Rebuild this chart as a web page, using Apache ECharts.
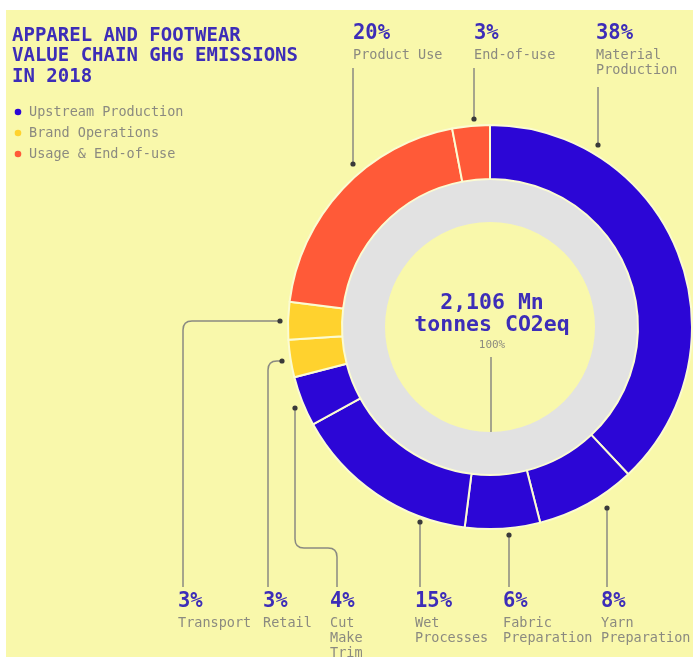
<!DOCTYPE html>
<html>
<head>
<meta charset="utf-8">
<script src="https://cdn.jsdelivr.net/npm/echarts@6/dist/echarts.min.js"></script>
<style>
  html, body { margin: 0; padding: 0; background: #ffffff; }
  #chart { width: 693px; height: 657px; }
</style>
</head>
<body>
<div id="chart"></div>
<script>
// Value chain stages, clockwise from 12 o'clock
const stageNames = ['Material Production', 'Yarn Preparation', 'Fabric Preparation', 'Wet Processes',
  'Cut Make Trim', 'Retail', 'Transport', 'Product Use', 'End-of-use'];
const stageShares = [38, 8, 6, 15, 4, 3, 3, 20, 3];
const stageGroup = [0, 0, 0, 0, 0, 1, 1, 2, 2];
const stageLabels = ['Material\nProduction', 'Yarn\nPreparation', 'Fabric\nPreparation', 'Wet\nProcesses',
  'Cut\nMake\nTrim', 'Retail', 'Transport', 'Product Use', 'End-of-use'];

const groupNames = ['Upstream Production', 'Brand Operations', 'Usage & End-of-use'];

const titleLines = ['APPAREL AND FOOTWEAR', 'VALUE CHAIN GHG EMISSIONS', 'IN 2018'];
const totalLines = ['2,106 Mn', 'tonnes CO2eq'];
const totalShare = '100%';

// Styling
const BG = '#f9f8ab';
const groupColors = ['#2c06d6', '#ffd22e', '#ff5a38'];
const INK = '#3d2db8';
const GREY_TEXT = '#8b8a80';
const LEADER = '#8a8a82';
const DOT = '#3a3a3a';
const MONO = '"DejaVu Sans Mono", monospace';

const CX = 490, CY = 327;

// Callout layout per stage: text anchor and leader route (last point carries the dot)
const callouts = {
  'Product Use':         { x: 353, y: 34, route: [[353, 68], [353, 164]] },
  'End-of-use':          { x: 474, y: 34, route: [[474, 68], [474, 119]] },
  'Material Production': { x: 596, y: 34, route: [[598, 87], [598, 145]] },
  'Transport':           { x: 178, y: 602, route: [[183, 587], [183, 321], [280, 321]] },
  'Retail':              { x: 263, y: 602, route: [[268, 587], [268, 361], [282, 361]] },
  'Cut Make Trim':       { x: 330, y: 602, route: [[337, 587], [337, 548], [295, 548], [295, 408]] },
  'Wet Processes':       { x: 415, y: 602, route: [[420, 587], [420, 522]] },
  'Fabric Preparation':  { x: 503, y: 602, route: [[509, 587], [509, 535]] },
  'Yarn Preparation':    { x: 601, y: 602, route: [[607, 587], [607, 508]] }
};

const graphics = [];
const lineStyle = { stroke: LEADER, lineWidth: 1.5, fill: null };

// Leader line through the route with rounded corners
function leader(route, r) {
  let start = route[0];
  for (let i = 1; i < route.length; i++) {
    const p = route[i];
    if (i < route.length - 1) {
      const n = route[i + 1];
      const d1x = Math.sign(p[0] - start[0]), d1y = Math.sign(p[1] - start[1]);
      const d2x = Math.sign(n[0] - p[0]), d2y = Math.sign(n[1] - p[1]);
      const a = [p[0] - d1x * r, p[1] - d1y * r];
      const b = [p[0] + d2x * r, p[1] + d2y * r];
      graphics.push({ type: 'line', shape: { x1: start[0], y1: start[1], x2: a[0], y2: a[1] }, style: lineStyle });
      graphics.push({ type: 'bezierCurve', shape: { x1: a[0], y1: a[1], x2: b[0], y2: b[1], cpx1: p[0], cpy1: p[1] }, style: lineStyle });
      start = b;
    } else {
      graphics.push({ type: 'line', shape: { x1: start[0], y1: start[1], x2: p[0], y2: p[1] }, style: lineStyle });
    }
  }
  const end = route[route.length - 1];
  graphics.push({ type: 'circle', shape: { cx: end[0], cy: end[1], r: 2.6 }, style: { fill: DOT } });
}

// page background panel
graphics.push({ type: 'rect', z: -100, shape: { x: 6, y: 10, width: 700, height: 660 }, style: { fill: BG }, silent: true });

// title
titleLines.forEach(function (t, i) {
  graphics.push({ type: 'text', x: 12, y: 36 + i * 20.5,
    style: { text: t, fill: INK, font: 'bold 19px ' + MONO, textVerticalAlign: 'middle' } });
});

// legend
groupNames.forEach(function (g, i) {
  const y = 112 + i * 21;
  graphics.push({ type: 'circle', shape: { cx: 18, cy: y, r: 3.3 }, style: { fill: groupColors[i] } });
  graphics.push({ type: 'text', x: 29, y: y,
    style: { text: g, fill: GREY_TEXT, font: '13.5px ' + MONO, textVerticalAlign: 'middle' } });
});

// callouts
stageNames.forEach(function (name, i) {
  const c = callouts[name];
  leader(c.route, 9);
  graphics.push({ type: 'text', x: c.x, y: c.y,
    style: { text: stageShares[i] + '%', fill: INK, font: 'bold 20.5px ' + MONO, textVerticalAlign: 'middle' } });
  stageLabels[i].split('\n').forEach(function (line, k) {
    graphics.push({ type: 'text', x: c.x, y: c.y + 21 + k * 15,
      style: { text: line, fill: GREY_TEXT, font: '13.5px ' + MONO, textVerticalAlign: 'middle' } });
  });
});

// centre total
leader([[CX + 1, 357], [CX + 1, 449]], 0);
totalLines.forEach(function (t, i) {
  graphics.push({ type: 'text', x: CX + 2, y: 303 + i * 22,
    style: { text: t, fill: INK, font: 'bold 21.5px ' + MONO, textAlign: 'center', textVerticalAlign: 'middle' } });
});
graphics.push({ type: 'text', x: CX + 2, y: 345,
  style: { text: totalShare, fill: GREY_TEXT, font: '11px ' + MONO, textAlign: 'center', textVerticalAlign: 'middle' } });

const chart = echarts.init(document.getElementById('chart'), null, { renderer: 'canvas' });
chart.setOption({
  backgroundColor: '#ffffff',
  animation: false,
  graphic: { elements: graphics },
  series: [
    {
      type: 'pie',
      silent: true,
      center: [CX, CY],
      radius: [105, 149],
      startAngle: 90,
      label: { show: false },
      labelLine: { show: false },
      itemStyle: { color: '#e2e2e2' },
      data: [{ name: 'Total', value: 100 }]
    },
    {
      type: 'pie',
      silent: true,
      center: [CX, CY],
      radius: [148, 202],
      startAngle: 90,
      clockwise: true,
      label: { show: false },
      labelLine: { show: false },
      itemStyle: { borderColor: '#fbfbd2', borderWidth: 2 },
      data: stageNames.map(function (n, i) {
        return { name: n, value: stageShares[i], itemStyle: { color: groupColors[stageGroup[i]] } };
      })
    }
  ]
});
</script>
</body>
</html>
